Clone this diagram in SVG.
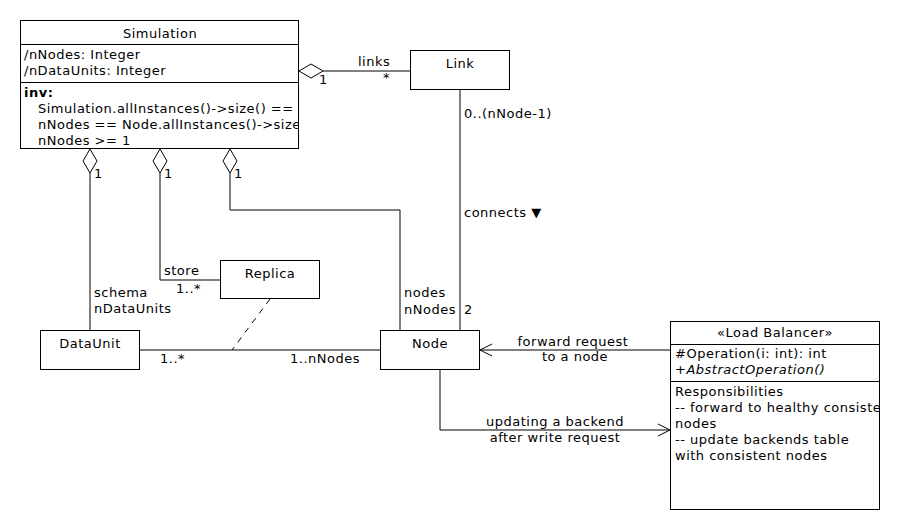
<svg xmlns="http://www.w3.org/2000/svg" width="900" height="530" viewBox="0 0 900 530">
<style>
text{font-family:"DejaVu Sans",sans-serif;font-size:13px;letter-spacing:0.5px;fill:#000}
.c{text-anchor:middle}
.box{fill:#fff;stroke:#000;stroke-width:1}
.ln{fill:none;stroke:#000;stroke-width:1}
.dia{fill:#fff;stroke:#000;stroke-width:1}
</style>
<defs>
<clipPath id="simclip"><rect x="20" y="20" width="278" height="129"/></clipPath>
<clipPath id="lbclip"><rect x="670" y="321" width="209" height="188"/></clipPath>
<marker id="open" markerWidth="14" markerHeight="14" refX="12" refY="7" orient="auto" markerUnits="userSpaceOnUse">
<path d="M0,1 L12,7 L0,13" fill="none" stroke="#000" stroke-width="1"/>
</marker>
</defs>
<rect width="900" height="530" fill="#fff"/>
<g id="connectors">
<path class="ln" d="M323,71 H410"/>
<path class="dia" d="M299,71 L311,64 L323,71 L311,78 Z"/>
<path class="ln" d="M460,89 V330"/>
<path class="ln" d="M90,173 V330"/>
<path class="dia" d="M90,149 L97,161 L90,173 L83,161 Z"/>
<path class="ln" d="M160,173 V280 H220"/>
<path class="dia" d="M160,149 L167,161 L160,173 L153,161 Z"/>
<path class="ln" d="M230,173 V210 H400 V330"/>
<path class="dia" d="M230,149 L237,161 L230,173 L223,161 Z"/>
<path class="ln" d="M139,350 H380"/>
<path class="ln" d="M270,299 L232,350" stroke-dasharray="6,6"/>
<path class="ln" d="M670,350 H480" marker-end="url(#open)"/>
<path class="ln" d="M440,369 V430 H670" marker-end="url(#open)"/>
<text x="358" y="66">links</text>
<text x="383" y="82">*</text>
<text x="319" y="84">1</text>
<text x="464" y="118">0..(nNode-1)</text>
<text x="464" y="217">connects ▼</text>
<text x="464" y="314">2</text>
<text x="94" y="178">1</text>
<text x="164" y="178">1</text>
<text x="234" y="178">1</text>
<text x="94" y="297">schema</text>
<text x="94" y="313">nDataUnits</text>
<text x="164" y="275">store</text>
<text x="176" y="293">1..*</text>
<text x="404" y="297">nodes</text>
<text x="404" y="314">nNodes</text>
<text x="160" y="363">1..*</text>
<text x="290" y="363">1..nNodes</text>
<text class="c" x="573" y="346">forward request</text>
<text class="c" x="575" y="361">to a node</text>
<text class="c" x="555" y="426">updating a backend</text>
<text class="c" x="555" y="442">after write request</text>
</g>
<g id="simulation">
<rect class="box" x="20.5" y="20.5" width="278" height="128"/>
<path class="ln" d="M20,44.5 H299 M20,82.5 H299"/>
<text class="c" x="160" y="38">Simulation</text>
<g clip-path="url(#simclip)">
<text x="24" y="59">/nNodes: Integer</text>
<text x="24" y="75">/nDataUnits: Integer</text>
<text x="24" y="97" font-weight="bold">inv:</text>
<text x="38" y="113">Simulation.allInstances()-&gt;size() ==</text>
<text x="38" y="129">nNodes == Node.allInstances()-&gt;size</text>
<text x="38" y="145">nNodes &gt;= 1</text>
</g>
</g>
<g id="link">
<rect class="box" x="410.5" y="50.5" width="99" height="39"/>
<text class="c" x="460" y="68">Link</text>
</g>
<g id="replica">
<rect class="box" x="220.5" y="260.5" width="99" height="38"/>
<text class="c" x="270" y="278">Replica</text>
</g>
<g id="dataunit">
<rect class="box" x="40.5" y="330.5" width="99" height="39"/>
<text class="c" x="90" y="348">DataUnit</text>
</g>
<g id="node">
<rect class="box" x="380.5" y="330.5" width="99" height="39"/>
<text class="c" x="430" y="348">Node</text>
</g>
<g id="loadbalancer">
<rect class="box" x="670.5" y="321.5" width="209" height="188"/>
<path class="ln" d="M670,344.5 H880 M670,381.5 H880"/>
<text class="c" x="775" y="337">«Load Balancer»</text>
<g clip-path="url(#lbclip)">
<text x="675" y="358">#Operation(i: int): int</text>
<text x="675" y="374" font-style="italic">+AbstractOperation()</text>
<text x="675" y="396">Responsibilities</text>
<text x="675" y="412">-- forward to healthy consistent</text>
<text x="675" y="428">nodes</text>
<text x="675" y="444">-- update backends table</text>
<text x="675" y="460">with consistent nodes</text>
</g>
</g>
</svg>
